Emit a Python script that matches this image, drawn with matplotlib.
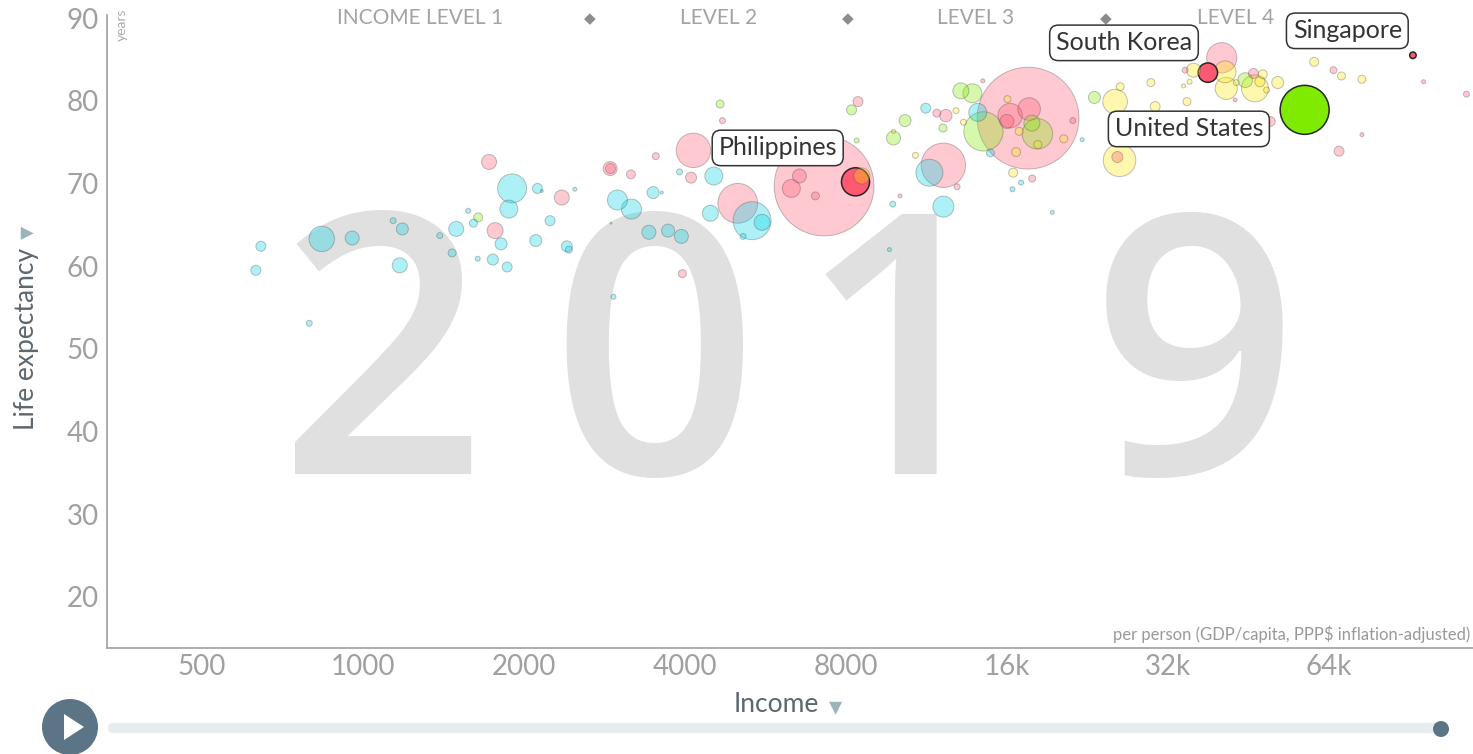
import numpy as np
import matplotlib
matplotlib.use("Agg")
import matplotlib.pyplot as plt
from matplotlib.patches import Circle, FancyBboxPatch, Polygon

# ---- data (income per person, life expectancy, population in millions) ----
africa_income = [644, 630, 837, 954, 1138, 1184, 1171, 793, 1391, 1467, 1493, 1572, 1608, 1811, 1638, 1748,
                 1859, 1899, 1873, 2118, 2158, 2488, 2236, 2103, 2404, 2425, 3904, 4526, 2989, 3175, 3485,
                 3618, 2908, 3422, 3717, 3936, 2938, 4460, 5337, 5572, 5134, 9780, 9640, 11270, 14100,
                 11450, 12160, 14890, 16990, 16370, 19440, 22100]
africa_life = [62.4, 59.5, 63.3, 63.4, 65.5, 64.5, 60.1, 53.1, 63.7, 61.6, 64.5, 66.7, 65.2, 62.7, 60.9, 60.8,
               59.9, 69.4, 66.9, 69.4, 69.1, 69.3, 65.5, 63.1, 62.4, 62.0, 71.4, 70.9, 68.0, 66.9, 68.9,
               68.9, 65.2, 64.1, 64.3, 63.6, 56.3, 66.4, 65.5, 65.3, 63.6, 67.5, 62.0, 79.1, 78.6,
               71.3, 67.2, 73.7, 70.1, 69.3, 66.5, 75.3]
africa_pop = [13.7, 13.7, 88.5, 26.9, 4.9, 19.8, 30.9, 4.9, 4.9, 8.8, 30.9, 3.4, 8.8, 19.8, 3.4, 16.6,
              13.7, 115, 44.4, 13.7, 1.2, 2.2, 13.7, 19.8, 16.6, 6.7, 4.9, 44.4, 54.9, 54.9, 19.8,
              1.2, 0.5, 26.9, 23.2, 26.9, 3.4, 35.1, 198, 35.1, 4.9, 4.9, 2.2, 13.7, 44.4,
              100, 60.5, 8.8, 3.4, 3.4, 2.2, 2.2]

americas_income = [1641, 4650, 8190, 8370, 9810, 13110, 13780, 12140, 10310, 14450, 17800, 18230, 23300, 44600]
americas_life = [65.9, 79.6, 78.9, 75.2, 75.5, 81.2, 80.9, 76.7, 77.6, 76.3, 77.3, 76.0, 80.4, 82.5]
americas_pop = [11.1, 8.8, 13.7, 3.4, 26.9, 35.1, 49.5, 8.8, 19.8, 211, 35.1, 127, 19.8, 30]

asia_income = [1765, 1720, 2352, 2896, 2900, 3167, 3526, 4104, 4146, 4698, 3953, 5018, 7276, 6543, 6320,
               7009, 8420, 14410, 11820, 12290, 17510, 16210, 15980, 17590, 21230, 17820, 12160, 12900,
               10090, 25720, 40310, 34430, 46200, 42700, 49660, 65200, 115600, 66800, 96100, 73700]
asia_life = [64.3, 72.6, 68.3, 71.8, 71.8, 71.1, 73.3, 70.7, 74.0, 77.6, 59.1, 67.6, 69.7, 70.9, 69.4,
             68.5, 79.9, 82.4, 78.5, 78.2, 77.9, 78.2, 77.5, 79.0, 77.6, 70.6, 72.2, 69.6,
             68.5, 73.2, 85.2, 83.7, 83.3, 80.1, 77.5, 83.7, 80.8, 73.9, 82.3, 75.9]
asia_pop = [35.1, 30.9, 30.9, 26.9, 13.7, 11.1, 6.7, 16.6, 163, 4.9, 8.8, 217, 1366, 26.9, 44.4,
            8.8, 13.7, 2.2, 8.8, 21, 1421, 83, 26.9, 70, 4.9, 6.7, 270, 4.9,
            2.2, 16.6, 126, 4.9, 13.7, 2.2, 13.7, 6.7, 4.9, 13.7, 2.2, 2.2]

europe_income = [12840, 13260, 9810, 16020, 18260, 16850, 16630, 20420, 10780, 16420, 25470, 26030, 29710,
                 25960, 30260, 40900, 35700, 41100, 34200, 35100, 34700, 42900, 48100, 47500, 46500,
                 48900, 51300, 60000, 67500, 73700, 8560]
europe_life = [78.8, 77.4, 76.3, 80.2, 74.7, 76.3, 73.8, 75.4, 73.4, 71.3, 79.9, 81.7, 82.2,
               72.8, 79.3, 83.5, 83.7, 81.5, 81.8, 82.3, 79.9, 82.2, 83.2, 82.3, 81.5,
               81.3, 82.2, 84.7, 83.0, 82.6, 70.9]
europe_pop = [4.9, 4.9, 2.2, 6.7, 8.8, 8.8, 11.1, 8.8, 4.9, 11.1, 83, 8.8, 8.8,
              145, 13.7, 65, 27, 67, 2.2, 3.4, 8.8, 4.9, 11.1, 13.7, 100,
              4.9, 19.8, 11.1, 8.8, 8.8, 35.1]

selected_names = ["Philippines", "South Korea", "Singapore", "United States"]
selected_region = ["asia", "asia", "asia", "americas"]
selected_income = [8330, 37970, 91800, 57600]
selected_life = [70.2, 83.4, 85.5, 78.9]
selected_pop = [108, 51.7, 5.8, 329]

x_ticks = [500, 1000, 2000, 4000, 8000, 16000, 32000, 64000]
x_tick_labels = ["500", "1000", "2000", "4000", "8000", "16k", "32k", "64k"]
y_ticks = [20, 30, 40, 50, 60, 70, 80, 90]
year = "2019"
levels = ["INCOME LEVEL 1", "LEVEL 2", "LEVEL 3", "LEVEL 4"]

colors = {"africa": "#00d5e9", "americas": "#7feb00", "asia": "#ff5872", "europe": "#ffe700"}

# ---- figure ----
DPI = 100
plt.rcParams["font.family"] = ["Lato", "DejaVu Sans"]
fig = plt.figure(figsize=(14.73, 7.54), dpi=DPI)

ui = fig.add_axes([0, 0, 1, 1], zorder=-1)
ui.set_xlim(0, 1473)
ui.set_ylim(754, 0)
ui.axis("off")

ax = fig.add_axes([107 / 1473, 106 / 754, 1366 / 1473, 633 / 754])
ax.patch.set_alpha(0)
ax.set_xscale("log", base=2)
ax.set_xlim(332, 118900)
ax.set_ylim(13.83, 90.37)

# big year watermark (inside the axes so bubbles sit on top)
for ch, fx in zip(year, [0.260, 0.444, 0.612, 0.811]):
    ax.text(fx, 0.497, ch, transform=fig.transFigure, fontsize=262, color="#e0e0e0",
            ha="center", va="center", family="Open Sans", fontweight="semibold", zorder=0)

# bubbles
inc, life, pop, fc, ec, lw = [], [], [], [], [], []
groups = [("africa", africa_income, africa_life, africa_pop),
          ("americas", americas_income, americas_life, americas_pop),
          ("asia", asia_income, asia_life, asia_pop),
          ("europe", europe_income, europe_life, europe_pop)]
for reg, xs, ys, ps in groups:
    for a, b, c in zip(xs, ys, ps):
        inc.append(a); life.append(b); pop.append(c)
        fc.append(matplotlib.colors.to_rgba(colors[reg], 0.32))
        ec.append((0.3, 0.3, 0.3, 0.35)); lw.append(0.7)
for reg, a, b, c in zip(selected_region, selected_income, selected_life, selected_pop):
    inc.append(a); life.append(b); pop.append(c)
    fc.append(matplotlib.colors.to_rgba(colors[reg], 1.0))
    ec.append((0.15, 0.15, 0.15, 1.0)); lw.append(1.1)

order = np.argsort(pop)[::-1]
inc = np.array(inc)[order]
life = np.array(life)[order]
pop = np.array(pop)[order]
fc = [fc[i] for i in order]
ec = [ec[i] for i in order]
lw = [lw[i] for i in order]
r_px = 1.35 * np.sqrt(pop)
sizes = (2 * r_px * 72 / DPI) ** 2
ax.scatter(inc, life, s=sizes, c=fc, edgecolors=ec, linewidths=lw, zorder=2)

# income level header
for txt, fx in zip(levels, [0.229, 0.448, 0.636, 0.826]):
    ax.text(fx, 0.995, txt, transform=ax.transAxes, ha="center", va="center",
            fontsize=15, color="#a3a3a3", zorder=1)
for fx in [0.3536, 0.5425, 0.7313]:
    ax.text(fx, 0.995, "◆", transform=ax.transAxes, ha="center", va="center",
            fontsize=11, color="#8c8c8c", family="DejaVu Sans", zorder=1)

# labels of selected countries
label_pos = [(0.491, 0.790), (0.7445, 0.956), (0.908, 0.975), (0.792, 0.820)]
for name, (fx, fy) in zip(selected_names, label_pos):
    ax.text(fx, fy, name, transform=ax.transAxes, ha="center", va="center", fontsize=18,
            color="#333333", zorder=5,
            bbox=dict(boxstyle="round,pad=0.25,rounding_size=0.35", fc="white", ec="#333333", lw=1.1))

ax.text(0.998, 0.022, "per person (GDP/capita, PPP$ inflation-adjusted)", transform=ax.transAxes,
        ha="right", va="center", fontsize=12, color="#999999")
ax.text(0.011, 0.984, "years", transform=ax.transAxes, rotation=90, ha="center", va="center",
        fontsize=10, color="#aaaaaa")

# axes styling
ax.set_xticks(x_ticks)
ax.set_xticklabels(x_tick_labels)
ax.set_yticks(y_ticks)
ax.minorticks_off()
ax.tick_params(length=0, labelsize=20, labelcolor="#a0a0a0")
ax.tick_params(axis="x", pad=4)
ax.tick_params(axis="y", pad=6)
for s in ["top", "right"]:
    ax.spines[s].set_visible(False)
for s in ["left", "bottom"]:
    ax.spines[s].set_color("#a0a0a0")
    ax.spines[s].set_linewidth(1.2)

fig.text(27 / 1473, 1 - 339 / 754, "Life expectancy", rotation=90, ha="center", va="center",
         fontsize=19, color="#5c6770")
fig.text(27 / 1473, 1 - 232 / 754, "▾", rotation=90, ha="center", va="center",
         fontsize=19, color="#9cb3ba", family="DejaVu Sans")
fig.text(776 / 1473, 1 - 705 / 754, "Income", ha="center", va="center", fontsize=19, color="#5c6770")
fig.text(836 / 1473, 1 - 707 / 754, "▾", ha="center", va="center", fontsize=19,
         color="#9cb3ba", family="DejaVu Sans")

# timeslider
ui.add_patch(FancyBboxPatch((108, 723), 1332, 10, boxstyle="round,pad=0,rounding_size=5",
                            fc="#e8edf0", ec="none"))
ui.add_patch(Circle((70, 727), 28, fc="#5b7587", ec="none"))
ui.add_patch(Polygon([(64, 714), (64, 740), (84, 727)], closed=True, fc="white", ec="none"))
ui.add_patch(Circle((1441, 729), 8, fc="#5b7587", ec="none"))

fig.savefig("out.png", dpi=DPI)
